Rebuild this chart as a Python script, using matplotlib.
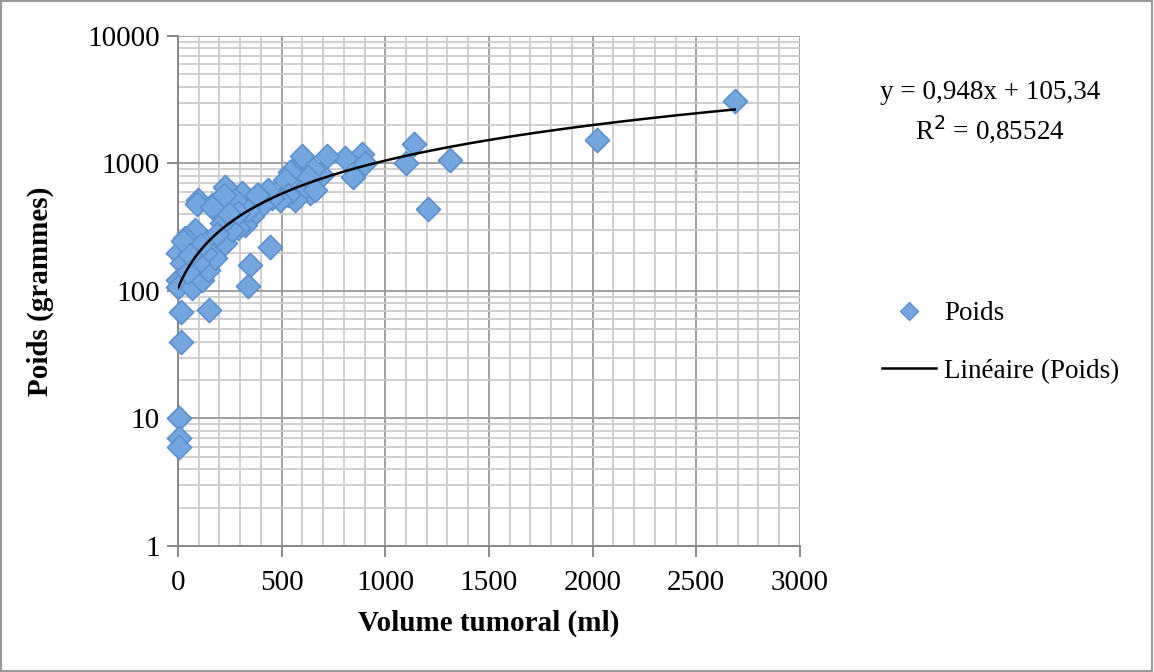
import numpy as np
import matplotlib.pyplot as plt
from matplotlib.ticker import MultipleLocator, LogLocator, NullFormatter
from matplotlib.lines import Line2D
from matplotlib.patches import Rectangle

plt.rcParams['font.family'] = ['Liberation Serif', 'DejaVu Serif']

# volume tumoral (ml) et poids (g)
volume = [2685, 2020, 1310, 1205, 1140, 1100, 888, 902, 844, 806, 719, 695,
          651, 637, 637, 598, 588, 550, 564, 627, 661, 540, 516, 530, 492,
          453, 434, 405, 386, 357, 323, 309, 338, 275, 289, 444, 347, 338,
          227, 96, 164, 275, 82, 34, 0, 19, 2, 2, 68, 116, 145, 178, 227,
          260, 289, 130, 96, 212, 241, 24, 92, 164, 222, 381, 14, 14, 150,
          5, 5, 5, 50, 110, 190, 60]
poids = [3100, 1530, 1070, 440, 1420, 1010, 1190, 1010, 785, 1100, 1150, 810,
         900, 745, 590, 1150, 600, 880, 520, 785, 620, 860, 740, 570, 520,
         535, 620, 470, 565, 390, 330, 590, 430, 380, 310, 220, 160, 110,
         650, 520, 470, 520, 300, 260, 200, 165, 122, 108, 106, 122, 146, 182, 238,
         300, 410, 200, 165, 340, 410, 245, 480, 456, 570, 570, 68, 40, 71,
         10, 7, 6, 140, 230, 280, 190]

pente = 0.948
ordonnee = 105.34
r2 = 0.85524

fig = plt.figure(figsize=(11.54, 6.72), dpi=100)
ax = fig.add_axes([0.1542, 0.1875, 0.539, 0.759])

# cadre gris autour de la figure
fig.patches.append(Rectangle((0.001, 0.001), 0.997, 0.997, transform=fig.transFigure,
                             fill=False, edgecolor='#999999', linewidth=1.5))

ax.set_yscale('log')
ax.set_xlim(0, 3000)
ax.set_ylim(1, 10000)

ax.xaxis.set_major_locator(MultipleLocator(500))
ax.xaxis.set_minor_locator(MultipleLocator(100))
ax.yaxis.set_major_locator(LogLocator(base=10))
ax.yaxis.set_minor_locator(LogLocator(base=10, subs=np.arange(2, 10)))
ax.yaxis.set_minor_formatter(NullFormatter())
ax.set_yticks([1, 10, 100, 1000, 10000])
ax.set_yticklabels(['1', '10', '100', '1000', '10000'])

ax.grid(which='major', color='#a0a0a0', linewidth=1.4)
ax.grid(which='minor', color='#cccccc', linewidth=1.3)
ax.set_axisbelow(True)

for s in ['top', 'right']:
    ax.spines[s].set_visible(False)
for s in ['left', 'bottom']:
    ax.spines[s].set_color('#888888')
    ax.spines[s].set_linewidth(1.4)

ax.tick_params(which='major', length=8, color='#888888', width=1.4, labelsize=21)
ax.tick_params(axis='x', pad=9)
ax.tick_params(axis='y', pad=5)
ax.tick_params(which='minor', length=0)

ax.scatter(volume, poids, marker='D', s=150, c='#74a6e0', edgecolors='#5d8fcc',
           linewidths=1.2, zorder=3, clip_on=False)

xx = np.linspace(min(volume), max(volume), 200)
ax.plot(xx, pente * xx + ordonnee, color='black', linewidth=1.8, zorder=4)

ax.set_xlabel('Volume tumoral (ml)', fontsize=21, fontweight='bold', labelpad=10)
ax.set_ylabel('Poids (grammes)', fontsize=21, fontweight='bold', labelpad=24)

fig.text(0.858, 0.862, 'y = 0,948x + 105,34', fontsize=19.5, ha='center', va='center')
fig.text(0.858, 0.808, 'R$^2$ = 0,85524', fontsize=19.5, ha='center', va='center')

handles = [Line2D([], [], marker='D', linestyle='none', markersize=9,
                  markerfacecolor='#74a6e0', markeredgecolor='#5d8fcc'),
           Line2D([], [], color='black', linewidth=1.8)]
fig.legend(handles, ['Poids', 'Linéaire (Poids)'], loc='center left',
           bbox_to_anchor=(0.743, 0.49), frameon=False, fontsize=19.5,
           handlelength=2.0, handletextpad=0.3, labelspacing=1.2)

fig.savefig('out.png', dpi=100)
